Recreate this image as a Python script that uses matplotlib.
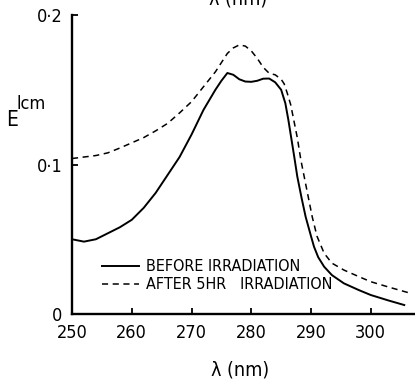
import matplotlib
matplotlib.use("Agg")
import matplotlib.pyplot as plt
from matplotlib import font_manager

# --- data ---
wl_before = [250, 252, 254, 256, 258, 260, 262, 264, 266, 268, 270, 272, 274, 275, 276, 277,
             278, 279, 280, 281, 282, 283, 284, 285, 285.7, 286.2, 286.6, 287.2, 287.7, 288.4,
             289.1, 290, 290.5, 291.2, 292.2, 293.5, 295.5, 298, 300, 303, 305.6]
e_before = [0.050, 0.0484, 0.050, 0.054, 0.058, 0.063, 0.071, 0.081, 0.093, 0.105, 0.120, 0.1365,
            0.150, 0.156, 0.1612, 0.160, 0.157, 0.1555, 0.1553, 0.156, 0.1574, 0.1575, 0.155,
            0.150, 0.141, 0.130, 0.120, 0.105, 0.092, 0.078, 0.065, 0.052, 0.045, 0.038, 0.0316,
            0.026, 0.0205, 0.016, 0.0127, 0.009, 0.006]

wl_after = [250, 252, 254, 256, 258, 260, 262, 264, 266, 268, 270, 272, 274, 276, 277, 278, 279,
            280, 281, 282, 283, 284, 285, 285.5, 286, 286.6, 287.1, 287.7, 288.3, 289.2, 290.2,
            291.0, 292.2, 293.5, 295.5, 298, 300, 303, 306.7]
e_after = [0.104, 0.105, 0.106, 0.1078, 0.111, 0.1145, 0.118, 0.1225, 0.1275, 0.1345, 0.142,
           0.152, 0.162, 0.1743, 0.178, 0.180, 0.1792, 0.176, 0.171, 0.165, 0.161, 0.160, 0.157,
           0.154, 0.148, 0.140, 0.130, 0.118, 0.103, 0.085, 0.065, 0.052, 0.0406, 0.034, 0.0294,
           0.025, 0.0216, 0.018, 0.0138]

x_ticks = [250, 260, 270, 280, 290, 300]
y_ticks = [0, 0.1, 0.2]
y_ticklabels = ["0", "0·1", "0·2"]
labels = ["BEFORE IRRADIATION", "AFTER 5HR   IRRADIATION"]

# pick a condensed face if one is installed
cond_file = None
for fam in ["Liberation Sans Narrow", "DejaVu Sans"]:
    try:
        f = font_manager.findfont(font_manager.FontProperties(family=fam, stretch="condensed"),
                                  fallback_to_default=False)
        if "ondensed" in f or "arrow" in f:
            cond_file = f
            break
    except Exception:
        pass

if cond_file:
    fp_name = font_manager.FontProperties(fname=cond_file).get_name()
    FONT = [fp_name, "DejaVu Sans"]
    STRETCH = "condensed"
    SCALE = 1.0
else:
    FONT = ["Liberation Sans", "DejaVu Sans"]
    STRETCH = "normal"
    SCALE = 0.88
plt.rcParams["font.family"] = FONT
plt.rcParams["font.stretch"] = STRETCH

fig = plt.figure(figsize=(4.15, 3.81), dpi=100)
ax = fig.add_axes([72 / 415, 1 - 314 / 381, 1 - 72 / 415, (314 - 15) / 381])

ax.plot(wl_before, e_before, color="black", lw=1.4, label=labels[0])
ax.plot(wl_after, e_after, color="black", lw=1.1, linestyle=(0, (4, 3)), label=labels[1])

ax.set_xlim(250, 307.4)
ax.set_ylim(0, 0.2)
for s in ["top", "right"]:
    ax.spines[s].set_visible(False)
for s in ["left", "bottom"]:
    ax.spines[s].set_linewidth(1.7)

ax.set_xticks(x_ticks)
ax.set_xticklabels([str(t) for t in x_ticks])
ax.set_yticks(y_ticks)
ax.set_yticklabels(y_ticklabels)
ax.tick_params(direction="in", length=4, width=1.3, labelsize=13 * SCALE, pad=7)

ax.legend(loc="upper left", bbox_to_anchor=(0.07, 0.205), frameon=False, fontsize=11.5 * SCALE,
          handlelength=2.3, handletextpad=0.4, labelspacing=0.2, borderaxespad=0)

fig.text(12 / 415, 1 - 120 / 381, "E", fontsize=15, ha="center", va="center")
fig.text(31 / 415, 1 - 104 / 381, "lcm", fontsize=13 * SCALE, ha="center", va="center")
fig.text(240 / 415, 1 - 370 / 381, "λ (nm)", fontsize=14, ha="center", va="center",
         family=["DejaVu Sans"], stretch="condensed")
fig.text(238 / 415, 1 - (-1) / 381, "λ (nm)", fontsize=14, ha="center", va="center",
         family=["DejaVu Sans"], stretch="condensed")

fig.savefig("out.png", dpi=100)
